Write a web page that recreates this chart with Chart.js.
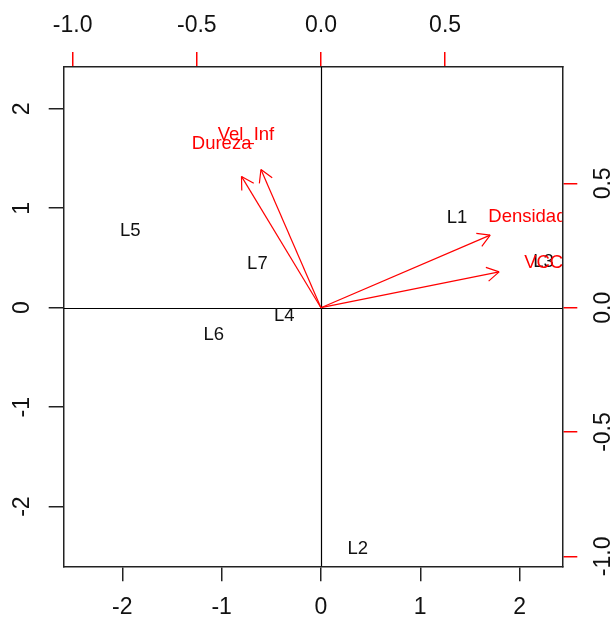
<!DOCTYPE html>
<html>
<head>
<meta charset="utf-8">
<script src="https://cdn.jsdelivr.net/npm/chart.js@4"></script>
<style>
  body { margin:0; background:#fff; }
  #wrap { width:613px; height:618px; position:relative; }
</style>
</head>
<body>
<div id="wrap"><canvas id="biplot"></canvas></div>
<script>
// observations (scores), primary axes
const OBS_LABELS = ['L1','L2','L3','L4','L5','L6','L7'];
const OBS_X = [1.37, 0.37, 2.24, -0.37, -1.92, -1.08, -0.64];
const OBS_Y = [0.90, -2.43, 0.46, -0.08, 0.77, -0.27, 0.44];

// variables (loadings), secondary axes
const VAR_LABELS = ['Densidade','VCC','Dureza','Vel_Inf'];
const VAR_X = [0.852, 0.897, -0.40, -0.302];
const VAR_Y = [0.365, 0.18, 0.66, 0.695];

// ticks
const X_TICKS = [-2, -1, 0, 1, 2];
const Y_TICKS = [-2, -1, 0, 1, 2];
const X_TICK_LABELS = ['-2','-1','0','1','2'];
const Y_TICK_LABELS = ['-2','-1','0','1','2'];
const X2_TICKS = [-1, -0.5, 0, 0.5];
const Y2_TICKS = [-1, -0.5, 0, 0.5];
const X2_TICK_LABELS = ['-1.0','-0.5','0.0','0.5'];
const Y2_TICK_LABELS = ['-1.0','-0.5','0.0','0.5'];

const XLIM = [-2.59, 2.43], YLIM = [-2.60, 2.42], RATIO = 2.5;
const FONT = '18.5px "Liberation Sans", Arial, sans-serif';
const TICK_FONT = '23px "Liberation Sans", Arial, sans-serif';
const RED = '#ff0000', INK = '#222';

function axis(pos, lim, ticks, size, tickColor) {
  const horiz = pos === 'top' || pos === 'bottom';
  return {
    type: 'linear', position: pos, min: lim[0], max: lim[1],
    afterBuildTicks: s => { s.ticks = ticks.map(v => ({ value: v })); },
    afterFit: s => { if (horiz) s.height = size; else s.width = size; },
    ticks: { display: false },
    grid: { drawOnChartArea: false, drawTicks: true, tickLength: 15, color: tickColor, lineWidth: 1.5 },
    border: { display: true, color: INK, width: 1.5 }
  };
}

const arrowSets = VAR_LABELS.map((n, i) => ({
  label: n, xAxisID: 'x2', yAxisID: 'y2', showLine: true,
  data: [{ x: 0, y: 0 }, { x: VAR_X[i] * 0.8, y: VAR_Y[i] * 0.8 }],
  borderColor: RED, borderWidth: 1.2, pointRadius: 0, arrow: true
}));

const biplotDraw = {
  id: 'biplotDraw',
  beforeDatasetsDraw(chart) {
    const { ctx, chartArea: a, scales } = chart;
    ctx.save();
    ctx.strokeStyle = '#000'; ctx.lineWidth = 1.2;
    const x0 = Math.round(scales.x.getPixelForValue(0)) + 0.5;
    const y0 = Math.round(scales.y.getPixelForValue(0)) + 0.5;
    ctx.beginPath();
    ctx.moveTo(x0, a.top); ctx.lineTo(x0, a.bottom);
    ctx.moveTo(a.left, y0); ctx.lineTo(a.right, y0);
    ctx.stroke();
    ctx.restore();
  },
  afterDatasetsDraw(chart) {
    const { ctx, chartArea: a } = chart;
    ctx.save();
    ctx.beginPath(); ctx.rect(a.left, a.top, a.right - a.left, a.bottom - a.top); ctx.clip();
    // arrow heads
    chart.data.datasets.forEach((ds, di) => {
      if (!ds.arrow) return;
      const pts = chart.getDatasetMeta(di).data;
      const p0 = pts[0], p1 = pts[1];
      const ang = Math.atan2(p1.y - p0.y, p1.x - p0.x);
      const len = 14;
      ctx.strokeStyle = RED; ctx.lineWidth = 1.2;
      ctx.beginPath();
      [Math.PI / 6, -Math.PI / 6].forEach(d => {
        ctx.moveTo(p1.x, p1.y);
        ctx.lineTo(p1.x - len * Math.cos(ang + d), p1.y - len * Math.sin(ang + d));
      });
      ctx.stroke();
    });
    // text labels
    ctx.font = FONT; ctx.textAlign = 'center'; ctx.textBaseline = 'middle';
    chart.data.datasets.forEach((ds, di) => {
      if (!ds.names) return;
      ctx.fillStyle = ds.textColor;
      chart.getDatasetMeta(di).data.forEach((el, i) => ctx.fillText(ds.names[i], el.x, el.y));
    });
    ctx.restore();
  },
  afterDraw(chart) {
    const { ctx, chartArea: a, scales } = chart;
    const off = 41;
    ctx.save();
    ctx.font = TICK_FONT; ctx.fillStyle = '#111'; ctx.textAlign = 'center'; ctx.textBaseline = 'middle';
    X_TICKS.forEach((v, i) => ctx.fillText(X_TICK_LABELS[i], scales.x.getPixelForValue(v), a.bottom + off));
    X2_TICKS.forEach((v, i) => ctx.fillText(X2_TICK_LABELS[i], scales.x2.getPixelForValue(v), a.top - off));
    const vert = (txt, px, py) => {
      ctx.save(); ctx.translate(px, py); ctx.rotate(-Math.PI / 2); ctx.fillText(txt, 0, 0); ctx.restore();
    };
    Y_TICKS.forEach((v, i) => vert(Y_TICK_LABELS[i], a.left - off, scales.y.getPixelForValue(v)));
    Y2_TICKS.forEach((v, i) => vert(Y2_TICK_LABELS[i], a.right + off, scales.y2.getPixelForValue(v)));
    ctx.restore();
  }
};

new Chart(document.getElementById('biplot'), {
  type: 'scatter',
  data: {
    datasets: [
      { label: 'obs', xAxisID: 'x', yAxisID: 'y', pointRadius: 0,
        data: OBS_X.map((x, i) => ({ x, y: OBS_Y[i] })), names: OBS_LABELS, textColor: '#111' },
      { label: 'vars', xAxisID: 'x2', yAxisID: 'y2', pointRadius: 0,
        data: VAR_X.map((x, i) => ({ x, y: VAR_Y[i] })), names: VAR_LABELS, textColor: RED },
      ...arrowSets
    ]
  },
  options: {
    responsive: true, maintainAspectRatio: false, animation: false,
    layout: { padding: 0 },
    plugins: { legend: { display: false }, tooltip: { enabled: false } },
    scales: {
      x:  axis('bottom', XLIM, X_TICKS, 51.7, INK),
      y:  axis('left', YLIM, Y_TICKS, 63.7, INK),
      x2: axis('top', XLIM.map(v => v / RATIO), X2_TICKS, 67, RED),
      y2: axis('right', YLIM.map(v => v / RATIO), Y2_TICKS, 50.7, RED)
    }
  },
  plugins: [biplotDraw]
});
</script>
</body>
</html>
